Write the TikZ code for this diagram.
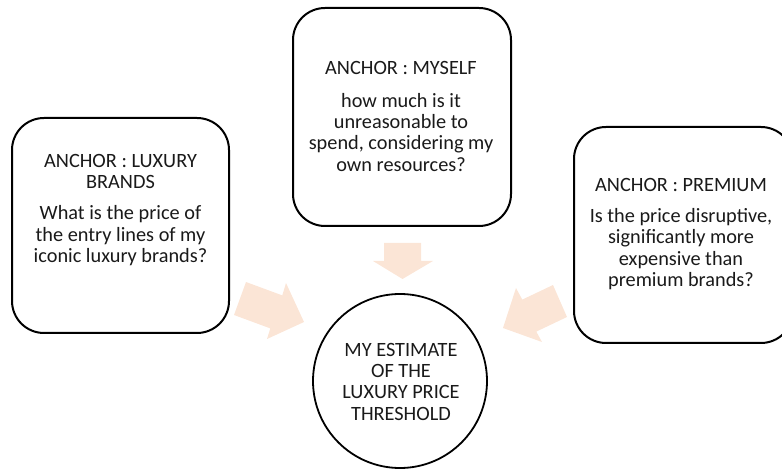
\documentclass[tikz,border=0pt]{standalone}
\usepackage{fontspec}
\setmainfont{Carlito}
\definecolor{peach}{HTML}{FBE5D6}
\definecolor{inkgray}{HTML}{1A1A1A}
\begin{document}
\begin{tikzpicture}[x=1pt,y=-1pt,
  anchorbox/.style={draw=black, line width=2pt, rounded corners=32pt, fill=white},
  txt/.style={align=center, inner sep=0pt, anchor=north, text=inkgray,
    font=\fontsize{20.3}{21.3}\selectfont},
  goal/.style={draw=black, line width=1.8pt, circle, fill=white},
  blockarrow/.style={fill=peach, draw=none}]
\useasboundingbox (0,0) rectangle (782,470);
\clip (0,0) rectangle (782,470);

% anchor boxes
\draw[anchorbox] (12,118) rectangle (229,333);
\node[coordinate] (lux) at (120.5,225) {};
\draw[anchorbox] (293,8) rectangle (511,226);
\node[coordinate] (self) at (402,117) {};
\draw[anchorbox] (574,127) rectangle (793,343);
\node[coordinate] (prem) at (682,235) {};

% texts of the boxes
\node[txt] (luxtxt) at (120.5,154) {ANCHOR : LUXURY\\BRANDS\\[10pt]What is the price of\\the entry lines of my\\iconic luxury brands?};
\node[txt] (selftxt) at (401,61) {ANCHOR : MYSELF\\[11.5pt]how much is it\\unreasonable to\\spend, considering my\\own resources?};
\node[txt] (premtxt) at (681,178) {ANCHOR : PREMIUM\\[10pt]Is the price disruptive,\\significantly more\\expensive than\\premium brands?};

% block arrows towards the estimate
\fill[blockarrow] (246,282) -- (282.3,295.4) -- (286,283) -- (304,322) -- (267,339) -- (270.3,328.4) -- (234,315) -- cycle;
\fill[blockarrow] (384,243) -- (421,243) -- (421,261) -- (433,261) -- (402.5,279) -- (373,261) -- (384,261) -- cycle;
\fill[blockarrow] (553,285) -- (522.3,299.6) -- (516,288) -- (503,328) -- (542,342) -- (536.3,331.6) -- (567,317) -- cycle;

% the estimate
\node[goal, minimum size=174pt] (est) at (400,381) {};
\node[txt] (esttxt) at (401,343) {MY ESTIMATE\\OF THE\\LUXURY PRICE\\THRESHOLD};
\end{tikzpicture}
\end{document}
